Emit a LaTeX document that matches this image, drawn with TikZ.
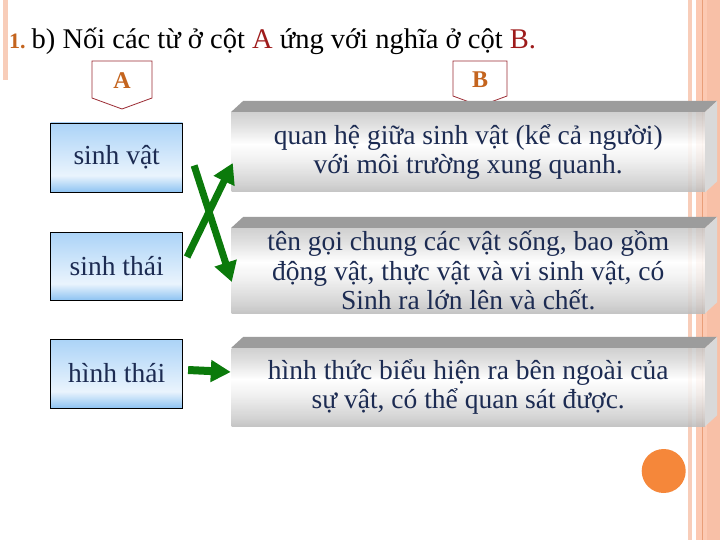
\documentclass[tikz,border=0pt]{standalone}
\usepackage{fontspec}
\setmainfont{Liberation Serif}
\usetikzlibrary{arrows.meta,calc}
\definecolor{obrown}{HTML}{C4641E}
\definecolor{dred}{HTML}{9E1B1B}
\definecolor{banline}{HTML}{9B2B33}
\definecolor{navy}{HTML}{1C2B52}
\definecolor{garrow}{HTML}{0B7A0B}
\definecolor{stripeA}{HTML}{F8CDB9}
\definecolor{stripeB}{HTML}{FCC9B2}
\definecolor{stripeC}{HTML}{F8C0A7}
\definecolor{stripeL}{HTML}{E99E78}
\definecolor{orangec}{HTML}{F5873A}
\definecolor{gB}{HTML}{BDBDBD}
\definecolor{gA}{HTML}{CDCDCD}
\definecolor{gW}{HTML}{EFEFEF}
\definecolor{gT2}{HTML}{DCDCDC}
\definecolor{gT}{HTML}{CACACA}
\definecolor{bevelc}{HTML}{9C9C9C}
\definecolor{sidec}{HTML}{D9D9D9}
\definecolor{bB}{HTML}{8EC3F2}
\definecolor{bP}{HTML}{EAF4FD}
\definecolor{bT}{HTML}{ABD3F7}
\pgfdeclareverticalshading{grayface}{100bp}{color(0bp)=(gB); color(25bp)=(gB); color(30bp)=(gA); color(45bp)=(gW); color(55bp)=(white); color(67bp)=(gT2); color(75bp)=(gT); color(100bp)=(gT)}
\pgfdeclareverticalshading{blueface}{100bp}{color(0bp)=(bB); color(25bp)=(bB); color(37bp)=(bP); color(75bp)=(bT); color(100bp)=(bT)}
\newcommand\slabsides[1]{%
  \fill[bevelc] (#1.north west) -- ++(12,-11) -- ($(#1.north east)+(12,-11)$) -- (#1.north east) -- cycle;
  \fill[sidec] (#1.north east) -- ++(12,-11) -- ($(#1.south east)+(12,-11)$) -- (#1.south east) -- cycle;}
\begin{document}
\begin{tikzpicture}[x=1pt,y=-1pt,
  leftbox/.style={draw=black, line width=0.8pt, shading=blueface, minimum width=132pt, inner sep=0pt, font=\fontsize{27.5}{30}\selectfont, text=navy},
  rightbox/.style={shading=grayface, fill opacity=0.88, text opacity=1, minimum width=473.5pt, inner sep=0pt, align=center, font=\fontsize{27.5}{29.5}\selectfont, text=navy},
  banner/.style={draw=banline, line width=0.8pt, fill=white},
  labtext/.style={font=\fontsize{24}{26}\selectfont\bfseries, text=obrown, inner sep=0pt},
  greenarrow/.style={draw=garrow, line width=7pt, -{Triangle[length=20pt,width=22pt]}}]
\useasboundingbox (0,0) rectangle (720,540);
\fill[white] (0,0) rectangle (720,540);
% right border stripes
\fill[stripeA] (687.7,0) rectangle (691.7,540);
\fill[stripeB] (695.7,0) rectangle (707.3,540);
\fill[stripeC] (707.3,0) rectangle (720,540);
\fill[stripeL] (702.3,0) rectangle (703.3,540);
\fill[stripeA] (3.3,0) rectangle (8.3,80);
% title
\node[anchor=base west, inner sep=0pt] (title) at (9,49) {{\fontsize{22}{24}\selectfont\bfseries\color{obrown}1.}\hspace{6pt}{\fontsize{28.5}{31}\selectfont b) Nối các từ ở cột {\color{dred}A} ứng với nghĩa ở cột {\color{dred}B.}}};
% banners
\draw[banner] (92,61) -- (152,61) -- (152,98) -- (122,109) -- (92,98) -- cycle;
\node[labtext] (labA) at (122,81) {A};
\draw[banner] (453,61) -- (507,61) -- (507,96) -- (480,106) -- (453,96) -- cycle;
\node[labtext] (labB) at (480,80) {B};
% left boxes
\node[leftbox, minimum height=69pt] (sv) at (116.7,157.5) {sinh vật};
\node[leftbox, minimum height=68pt] (st) at (116.7,266) {sinh thái};
\node[leftbox, minimum height=69pt] (ht) at (116.7,373.5) {hình thái};
% right boxes
\node[rightbox, minimum height=80pt] (b1) at (468.25,152) {quan hệ giữa sinh vật (kể cả người)\\với môi trường xung quanh.};
\node[rightbox, minimum height=85pt] (b2) at (468.25,270.5) {tên gọi chung các vật sống, bao gồm\\động vật, thực vật và vi sinh vật, có\\Sinh ra lớn lên và chết.};
\node[rightbox, minimum height=78pt] (b3) at (468.25,387) {hình thức biểu hiện ra bên ngoài của\\sự vật, có thể quan sát được.};
\slabsides{b1}
\slabsides{b2}
\slabsides{b3}
% arrows
\coordinate (a1s) at ($(sv.east)+(11,8)$);
\coordinate (a1e) at ($(b2.west)+(0.5,11.5)$);
\coordinate (a2s) at ($(st.east)+(4,-9)$);
\coordinate (a2e) at ($(b1.west)+(1.5,11)$);
\coordinate (a3s) at ($(ht.east)+(5,-3.5)$);
\coordinate (a3e) at ($(b3.west)+(-0.5,-15)$);
\draw[greenarrow] (a1s) -- (a1e);
\draw[greenarrow] (a2s) -- (a2e);
\draw[greenarrow, line width=8pt, -{Triangle[length=20pt,width=21pt]}] (a3s) -- (a3e);
% orange circle
\fill[orangec] (663.7,471) circle (22);
\end{tikzpicture}
\end{document}
